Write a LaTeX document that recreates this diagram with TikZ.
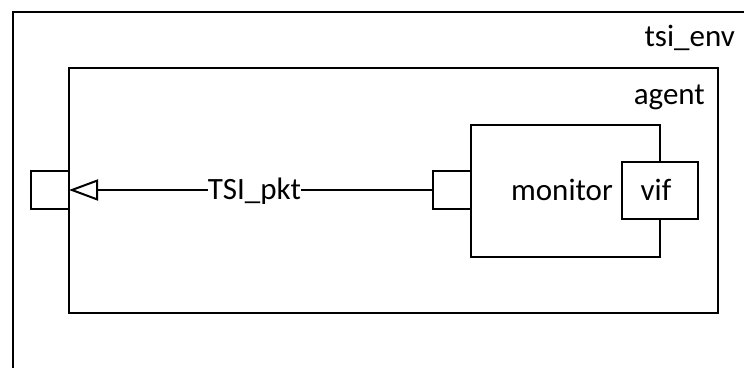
\documentclass[tikz,border=0pt]{standalone}
\usepackage{fontspec}
\setmainfont{Carlito}
\usetikzlibrary{arrows.meta}
\tikzset{
  box/.style={draw, line width=2pt, fill=white, outer sep=0pt, inner sep=0pt},
  lbl/.style={inner sep=0pt, font=\fontsize{31}{37}\selectfont},
  wire/.style={line width=2pt, -{Triangle[open, length=29pt, width=21pt, line width=2pt]}}
}
\begin{document}
\begin{tikzpicture}[x=1pt, y=-1pt]
  \useasboundingbox (0,0) rectangle (744,367);
  \fill[white] (0,0) rectangle (744,367);
  \clip (0,0) rectangle (744,367);

  % environment frame, running past the page edges
  \node[box, anchor=north west, minimum width=780pt, minimum height=400pt] (env) at (12.5,12) {};
  \node[lbl, anchor=base east] (envlbl) at (735,46.5) {tsi\_env};

  % agent
  \node[box, minimum width=648.7pt, minimum height=245pt] (agent) at (393.3,190.5) {};
  \node[lbl, anchor=base east] (agentlbl) at (705,104) {agent};

  % monitor with its virtual interface
  \node[box, minimum width=189.3pt, minimum height=132pt] (monitor) at (565.6,191) {};
  \node[lbl, anchor=base] (monlbl) at (562,200) {monitor};
  \node[box, minimum width=76.6pt, minimum height=57pt] (vif) at (660,190.5) {};
  \node[lbl, anchor=base] (viflbl) at (656,200) {vif};

  % ports
  \node[box, minimum width=38.5pt, minimum height=38pt] (lport) at (49.75,190) {};
  \node[box, minimum width=38.3pt, minimum height=38pt] (rport) at (451.85,190) {};

  % analysis connection
  \draw[wire] (rport.west) -- node[lbl, fill=white, pos=0.49, anchor=center, yshift=-1pt] (pkt) {TSI\_pkt} (lport.east);
\end{tikzpicture}
\end{document}
